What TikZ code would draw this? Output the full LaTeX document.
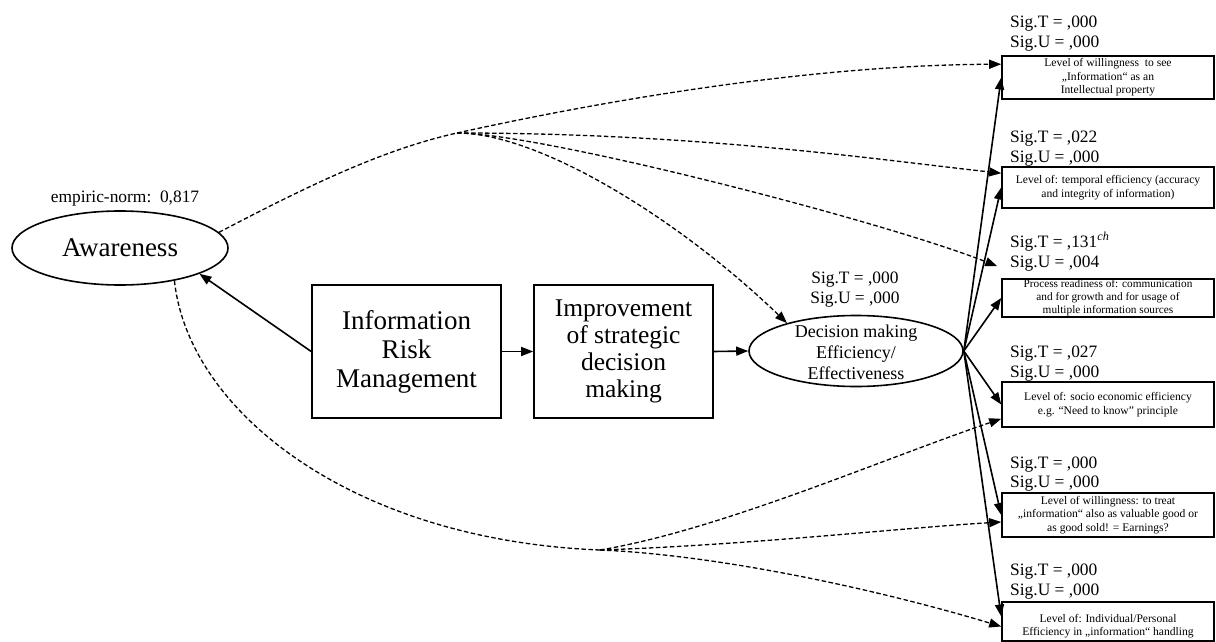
\documentclass[tikz,border=0pt]{standalone}
\usepackage{fontspec}
\setmainfont{Liberation Serif}
\usetikzlibrary{shapes.geometric,arrows.meta,calc}
\begin{document}
\begin{tikzpicture}[x=1pt,y=-1pt,
  tipped/.style={-{Triangle[length=12pt,width=9pt]}},
  solidarrow/.style={draw, line width=1.6pt, tipped},
  dashline/.style={draw, line width=1.3pt, dash pattern=on 4.5pt off 2.5pt},
  dasharrow/.style={dashline, tipped},
  bigbox/.style={draw, line width=1.6pt, minimum height=133pt, inner sep=0pt, align=center},
  outbox/.style={draw, line width=1.6pt, minimum width=212pt, inner sep=0pt, align=center, font=\fontsize{11.6}{13.5}\selectfont},
  sig/.style={anchor=base west, inner sep=0pt, font=\fontsize{17.4}{20}\selectfont},
  oval/.style={draw, ellipse, line width=1.6pt, inner sep=0pt, align=center}
]
\useasboundingbox (0,0) rectangle (1216,642);

% latent constructs
\node[oval, minimum width=216pt, minimum height=74pt, font=\fontsize{27}{29}\selectfont] (aw) at (120,248) {Awareness};
\node[anchor=base, inner sep=0pt, font=\fontsize{17.4}{20}\selectfont] (norm) at (125,202) {empiric-norm:\ \ 0,817};

\node[oval, minimum width=214pt, minimum height=71pt] (dec) at (856,351) {};
\node[inner sep=0pt, align=center, font=\fontsize{18}{21}\selectfont] (dectext) at (856,352) {Decision making\\Efficiency/\\Effectiveness};
\node[anchor=base, inner sep=0pt, font=\fontsize{17.4}{20}\selectfont] (decT) at (855,283) {Sig.T = ,000};
\node[anchor=base, inner sep=0pt, font=\fontsize{17.4}{20}\selectfont] (decU) at (855,303) {Sig.U = ,000};

% process boxes
\node[bigbox, minimum width=189pt, font=\fontsize{27}{29}\selectfont] (irm) at (406.5,351.5) {Information\\Risk\\Management};
\node[bigbox, minimum width=179pt, font=\fontsize{25.5}{26.8}\selectfont] (imp) at (623.5,351.5) {Improvement\\of strategic\\decision\\making};

% outcome boxes
\node[outbox, minimum height=43pt] (b1) at (1108,77.5) {Level of willingness\ \ to see\\„Information“ as an\\Intellectual property};
\node[outbox, minimum height=41pt] (b2) at (1108,187.5) {Level of: temporal efficiency (accuracy\\and integrity of information)};
\node[outbox, minimum height=38pt, font=\fontsize{11.3}{12.8}\selectfont] (b3) at (1108,298) {Process readiness of: communication\\and for growth and for usage of\\multiple information sources};
\node[outbox, minimum height=45pt] (b4) at (1108,404.5) {Level of: socio economic efficiency\\e.g. “Need to know” principle};
\node[outbox, minimum height=44pt] (b5) at (1108,515) {Level of willingness: to treat\\„information“ also as valuable good or\\as good sold! = Earnings?};
\node[outbox, minimum height=39pt] (b6) at (1108,621.5) {};
\node[inner sep=0pt, align=center, font=\fontsize{11.6}{13.5}\selectfont] (b6text) at (1108,626) {Level of: Individual/Personal\\Efficiency in „information“ handling};

% significance labels
\node[sig] (s1t) at (1010,28) {Sig.T = ,000};
\node[sig] (s1u) at (1010,48) {Sig.U = ,000};
\node[sig] (s2t) at (1010,142) {Sig.T = ,022};
\node[sig] (s2u) at (1010,162) {Sig.U = ,000};
\node[sig] (s3t) at (1010,247) {Sig.T = ,131\textsuperscript{\itshape ch}};
\node[sig] (s3u) at (1010,267) {Sig.U = ,004};
\node[sig] (s4t) at (1010,357) {Sig.T = ,027};
\node[sig] (s4u) at (1010,377) {Sig.U = ,000};
\node[sig] (s5t) at (1010,468) {Sig.T = ,000};
\node[sig] (s5u) at (1010,487) {Sig.U = ,000};
\node[sig] (s6t) at (1010,575) {Sig.T = ,000};
\node[sig] (s6u) at (1010,595) {Sig.U = ,000};

% main chain
\draw[solidarrow] (irm.west) -- (aw.-18);
\draw[solidarrow] (irm.east) -- (imp.west);
\draw[solidarrow] (imp.east) -- (dec.west);

% fan from decision making to outcomes
\draw[solidarrow] (dec.east) -- (b1.west);
\draw[solidarrow] (dec.east) -- (b2.west);
\draw[solidarrow] (dec.east) -- (b3.west);
\draw[solidarrow] (dec.east) -- (b4.west);
\draw[solidarrow] (dec.east) -- (b5.west);
\draw[solidarrow] (dec.east) -- ([yshift=5pt]b6.west);

% dashed influence of awareness, upper branch
\coordinate (jt) at (457,133);
\draw[dashline] (aw.9) .. controls (300,190) and (380,150) .. (jt);
\draw[dasharrow] (jt) .. controls (620,97) and (820,65) .. ([yshift=-9pt]b1.north west);
\draw[dasharrow] (jt) .. controls (700,133) and (880,160) .. ([yshift=-7pt]b2.north west);
\draw[dasharrow] (jt) .. controls (540,133) and (880,220) .. ([xshift=-4pt,yshift=12pt]b3.north west);
\draw[dasharrow] (jt) .. controls (540,133) and (680,220) .. (dec.158);

% dashed influence of awareness, lower branch
\coordinate (jb) at (600,550);
\draw[dashline] (aw.-31) .. controls (188,410) and (350,540) .. (jb);
\draw[dasharrow] (jb) .. controls (720,530) and (880,460) .. ([yshift=9pt]b4.south west);
\draw[dasharrow] (jb) .. controls (750,545) and (900,528) .. ([yshift=-7pt]b5.west);
\draw[dasharrow] (jb) .. controls (720,555) and (880,590) .. ([yshift=-5pt]b6.west);
\end{tikzpicture}
\end{document}
